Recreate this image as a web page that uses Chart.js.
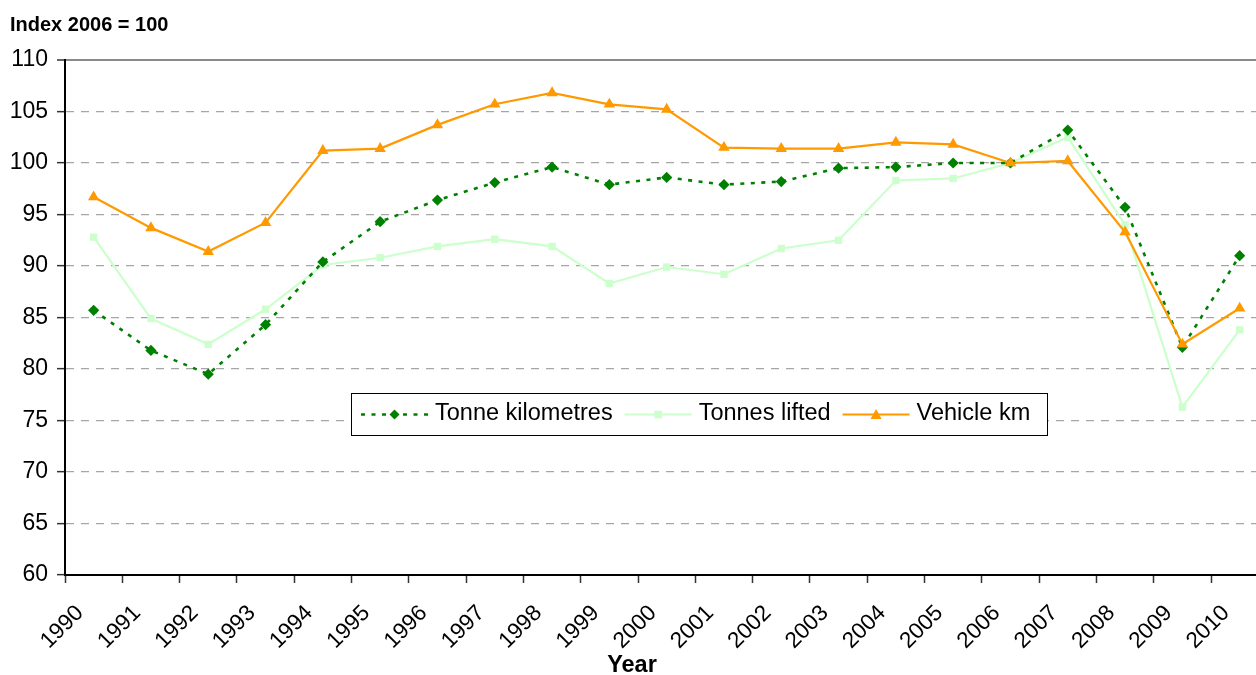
<!DOCTYPE html>
<html>
<head>
<meta charset="utf-8">
<script src="https://cdn.jsdelivr.net/npm/chart.js@4/dist/chart.umd.min.js"></script>
<style>
  html, body { margin: 0; padding: 0; background: #ffffff; }
  #wrap { position: relative; width: 1256px; height: 675px; }
  canvas { display: block; }
</style>
</head>
<body>
<div id="wrap"><canvas id="chart" width="1256" height="675"></canvas></div>
<script>
// ---- Data ----
const years = ['1990','1991','1992','1993','1994','1995','1996','1997','1998','1999','2000',
               '2001','2002','2003','2004','2005','2006','2007','2008','2009','2010'];
const seriesNames = ['Tonne kilometres', 'Tonnes lifted', 'Vehicle km'];
const tonneKm      = [85.7, 81.8, 79.5, 84.3, 90.4, 94.3, 96.4, 98.1, 99.6, 97.9, 98.6,
                      97.9, 98.2, 99.5, 99.6, 100.0, 100.0, 103.2, 95.7, 82.1, 91.0];
const tonnesLifted = [92.8, 84.9, 82.4, 85.8, 90.1, 90.8, 91.9, 92.6, 91.9, 88.3, 89.9,
                      89.2, 91.7, 92.5, 98.3, 98.5, 100.0, 102.5, 94.0, 76.3, 83.8];
const vehicleKm    = [96.7, 93.7, 91.4, 94.2, 101.2, 101.4, 103.7, 105.7, 106.8, 105.7, 105.2,
                      101.5, 101.4, 101.4, 102.0, 101.8, 100.0, 100.2, 93.3, 82.4, 85.9];
const yMin = 60, yMax = 110, yStep = 5;
const yTitle = 'Index 2006 = 100';
const xTitle = 'Year';

// ---- Helpers ----
const FONT = '"Liberation Sans", Arial, sans-serif';
// Excel draws each point in the middle of its category slot; ticks/labels sit on slot edges.
const toPoints = arr => arr.map((v, i) => ({ x: i + 0.5, y: v }));

const colors = { tkm: '#008000', lifted: '#CCFFCC', vkm: '#FF9900' };

function drawMarker(ctx, style, x, y, r, color) {
  ctx.save();
  ctx.fillStyle = color;
  ctx.beginPath();
  if (style === 'rectRot') {
    ctx.moveTo(x, y - r); ctx.lineTo(x + r, y); ctx.lineTo(x, y + r); ctx.lineTo(x - r, y);
  } else if (style === 'rect') {
    ctx.rect(x - r, y - r, 2 * r, 2 * r);
  } else if (style === 'triangle') {
    ctx.moveTo(x, y - r); ctx.lineTo(x + r, y + r * 0.8); ctx.lineTo(x - r, y + r * 0.8);
  }
  ctx.closePath();
  ctx.fill();
  ctx.restore();
}

const textPlugin = {
  id: 'textPlugin',
  afterDraw(chart) {
    const ctx = chart.ctx;
    ctx.save();
    // y-axis title (top-left)
    ctx.fillStyle = '#000';
    ctx.font = 'bold 20px ' + FONT;
    ctx.textAlign = 'left';
    ctx.textBaseline = 'alphabetic';
    ctx.fillText(yTitle, 10, 31);
    // x-axis title
    ctx.font = 'bold 23.5px ' + FONT;
    ctx.textAlign = 'center';
    ctx.fillText(xTitle, 632, 672);

    // legend box
    const bx = 351, by = 393, bw = 696, bh = 42;
    ctx.fillStyle = '#fff';
    ctx.fillRect(bx, by, bw, bh);
    ctx.strokeStyle = '#000';
    ctx.lineWidth = 1;
    ctx.strokeRect(bx + 0.5, by + 0.5, bw, bh);

    ctx.font = '23.5px ' + FONT;
    ctx.textAlign = 'left';
    const lineY = 414.5, textY = 420;
    let x = bx + 10;
    const sampleLen = 67;
    chart.data.datasets.forEach((ds) => {
      ctx.save();
      ctx.strokeStyle = ds.borderColor;
      ctx.lineWidth = ds.borderWidth;
      ctx.setLineDash(ds.borderDash || []);
      ctx.beginPath();
      ctx.moveTo(x, lineY);
      ctx.lineTo(x + sampleLen, lineY);
      ctx.stroke();
      ctx.restore();
      const mr = ds.pointStyle === 'rect' ? 3.8 : (ds.pointStyle === 'triangle' ? 5.5 : 5);
      drawMarker(ctx, ds.pointStyle, x + sampleLen / 2, lineY, mr, ds.backgroundColor);
      x += sampleLen + 7;
      ctx.fillStyle = '#000';
      ctx.fillText(ds.label, x, textY);
      x += ctx.measureText(ds.label).width + 12;
    });
    ctx.restore();
  }
};

const ctx = document.getElementById('chart').getContext('2d');
new Chart(ctx, {
  type: 'line',
  data: {
    datasets: [
      {
        label: seriesNames[0],
        data: toPoints(tonneKm),
        borderColor: colors.tkm,
        backgroundColor: colors.tkm,
        borderWidth: 2.6,
        borderDash: [4, 6.5],
        pointStyle: 'rectRot',
        pointRadius: 5.6,
        pointBorderWidth: 0,
        tension: 0,
        order: 1
      },
      {
        label: seriesNames[1],
        data: toPoints(tonnesLifted),
        borderColor: colors.lifted,
        backgroundColor: colors.lifted,
        borderWidth: 2.2,
        pointStyle: 'rect',
        pointRadius: 5.2,
        pointBorderWidth: 0,
        tension: 0,
        order: 2
      },
      {
        label: seriesNames[2],
        data: toPoints(vehicleKm),
        borderColor: colors.vkm,
        backgroundColor: colors.vkm,
        borderWidth: 2.2,
        pointStyle: 'triangle',
        pointRadius: 6.6,
        pointBorderWidth: 0,
        tension: 0,
        order: 0
      }
    ]
  },
  options: {
    responsive: false,
    animation: false,
    events: [],
    layout: { autoPadding: false, padding: { top: 60, left: 0, right: 0, bottom: 0 } },
    plugins: {
      legend: { display: false },
      title: { display: false },
      tooltip: { enabled: false }
    },
    scales: {
      x: {
        type: 'linear',
        min: 0,
        max: 20.785,
        afterBuildTicks: (scale) => { scale.ticks = years.map((_, i) => ({ value: i })); },
        afterFit: (scale) => { scale.height = 100; scale.paddingLeft = 0; scale.paddingRight = 0; },
        ticks: {
          autoSkip: false,
          minRotation: 45,
          maxRotation: 45,
          labelOffset: 15,
          padding: 17,
          color: '#000',
          font: { family: FONT, size: 22.5 },
          callback: (value, index) => years[index]
        },
        grid: {
          drawOnChartArea: false,
          drawTicks: true,
          tickLength: 8,
          tickColor: '#333',
          tickWidth: 1.5
        },
        border: { display: true, color: '#000', width: 2 }
      },
      y: {
        type: 'linear',
        min: yMin,
        max: yMax,
        afterFit: (scale) => { scale.width = 65; scale.paddingTop = 0; scale.paddingBottom = 0; },
        ticks: {
          stepSize: yStep,
          padding: 9,
          color: '#000',
          font: { family: FONT, size: 23 }
        },
        grid: {
          drawOnChartArea: true,
          drawTicks: true,
          tickLength: 8,
          color: (c) => (c.tick && c.tick.value === yMax) ? '#8a8a8a' : '#a6a6a6',
          lineWidth: (c) => (c.tick && c.tick.value === yMax) ? 2 : 1.3,
          tickColor: '#333',
          tickWidth: 1.5,
          tickBorderDash: []
        },
        border: {
          display: true,
          color: '#000',
          width: 2,
          dash: (c) => (c.tick && c.tick.value === yMax) ? [] : [8, 7]
        }
      }
    }
  },
  plugins: [textPlugin]
});
</script>
</body>
</html>
